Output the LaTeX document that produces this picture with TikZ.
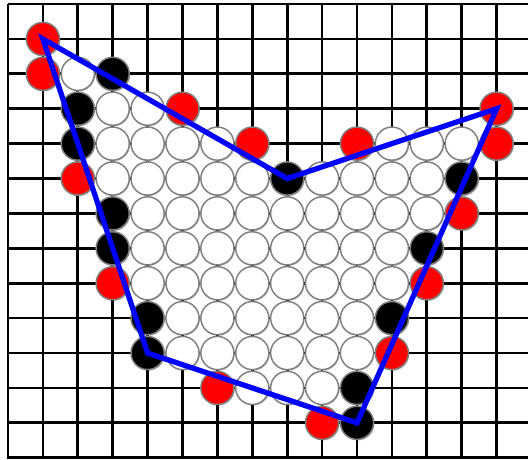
\documentclass[tikz,border=0pt]{standalone}
\usetikzlibrary{shadows}

\begin{document}
\begin{tikzpicture}[
  x=1cm, y=-1cm,
  gridline/.style={line width=2.2pt, black},
  stone/.style={circle, draw=black!50, line width=1.2pt, inner sep=0pt, minimum size=0.95cm,
    drop shadow={shadow xshift=0.7pt, shadow yshift=-0.9pt, opacity=0.25, fill=black}},
  wstone/.style={stone, fill=white},
  bstone/.style={stone, fill=black},
  rstone/.style={stone, fill=red},
  hull/.style={line width=4.3pt, blue, line join=miter}
]
  \useasboundingbox (-0.229,-0.115) rectangle (14.9,13.04);

  % --- grille ---
  \foreach \j in {0,...,13}
    \draw[gridline] (0,\j) -- (14.9,\j);
  \foreach \i in {0,...,14}
    \draw[gridline] (\i,0) -- (\i,13.04);

  % --- pierres blanches (interieur) ---
  \foreach \j/\a/\b in {2/2/2, 3/3/4, 4/3/6, 4/11/13, 5/3/7, 5/9/12, 6/4/12,
                        7/4/11, 8/4/11, 9/5/10, 10/5/10, 11/7/9}
    \foreach \i in {\a,...,\b}
      \node[wstone] (c-\i-\j) at (\i,\j) {};

  % --- pierres noires ---
  \foreach \i/\j in {3/2, 2/3, 2/4, 8/5, 13/5, 3/6, 3/7, 12/7, 4/9, 11/9, 4/10, 10/11, 10/12}
    \node[bstone] (c-\i-\j) at (\i,\j) {};

  % --- pierres rouges ---
  \foreach \i/\j in {1/1, 1/2, 5/3, 14/3, 7/4, 10/4, 14/4, 2/5, 13/6, 3/8, 12/8, 11/10, 6/11, 9/12}
    \node[rstone] (c-\i-\j) at (\i,\j) {};

  % --- enveloppe ---
  \draw[hull] (c-1-1.center) -- (c-8-5.center) -- (c-14-3.center)
    -- (c-10-12.center) -- (c-4-10.center) -- cycle;
\end{tikzpicture}
\end{document}
